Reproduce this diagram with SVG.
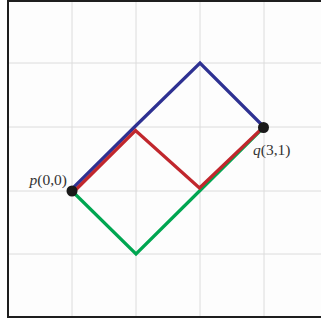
<svg xmlns="http://www.w3.org/2000/svg" width="321" height="320" viewBox="0 0 321 320">
<style>
.grid{stroke:#dcdcdc;stroke-width:1;fill:none}
.path{fill:none;stroke-width:3.2;stroke-linejoin:miter;stroke-linecap:butt}
.blue{stroke:#2e3192}
.red{stroke:#c1272d}
.green{stroke:#00a651}
.dot{fill:#1a1a1a}
.lbl{font-family:"Liberation Serif","DejaVu Serif",serif;font-size:15.5px;fill:#333}
</style>
<rect x="0" y="0" width="321" height="320" fill="#ffffff"/>
<rect x="8" y="1" width="330" height="316" fill="#fdfdfd" stroke="#1e1e1e" stroke-width="2"/>
<g id="grid">
<path class="grid" d="M72 2V316M136 2V316M200 2V316M264 2V316M9 63H321M9 127H321M9 191H321M9 254H321"/>
</g>
<g id="connectors">
<polyline class="path green" points="72,191 136,254 200,190.5 264,127"/>
<polyline class="path blue" points="71,190 135,126.5 200,63 264,127"/>
<polyline class="path red" points="73,192.5 135.5,130.5 199.5,188 263,127.5"/>
</g>
<g id="p">
<circle class="dot" cx="72" cy="191" r="5.5"/>
<text class="lbl" x="67" y="185" text-anchor="end"><tspan font-style="italic">p</tspan>(0,0)</text>
</g>
<g id="q">
<circle class="dot" cx="263.5" cy="127.5" r="5.5"/>
<text class="lbl" x="253" y="155"><tspan font-style="italic">q</tspan>(3,1)</text>
</g>
</svg>
